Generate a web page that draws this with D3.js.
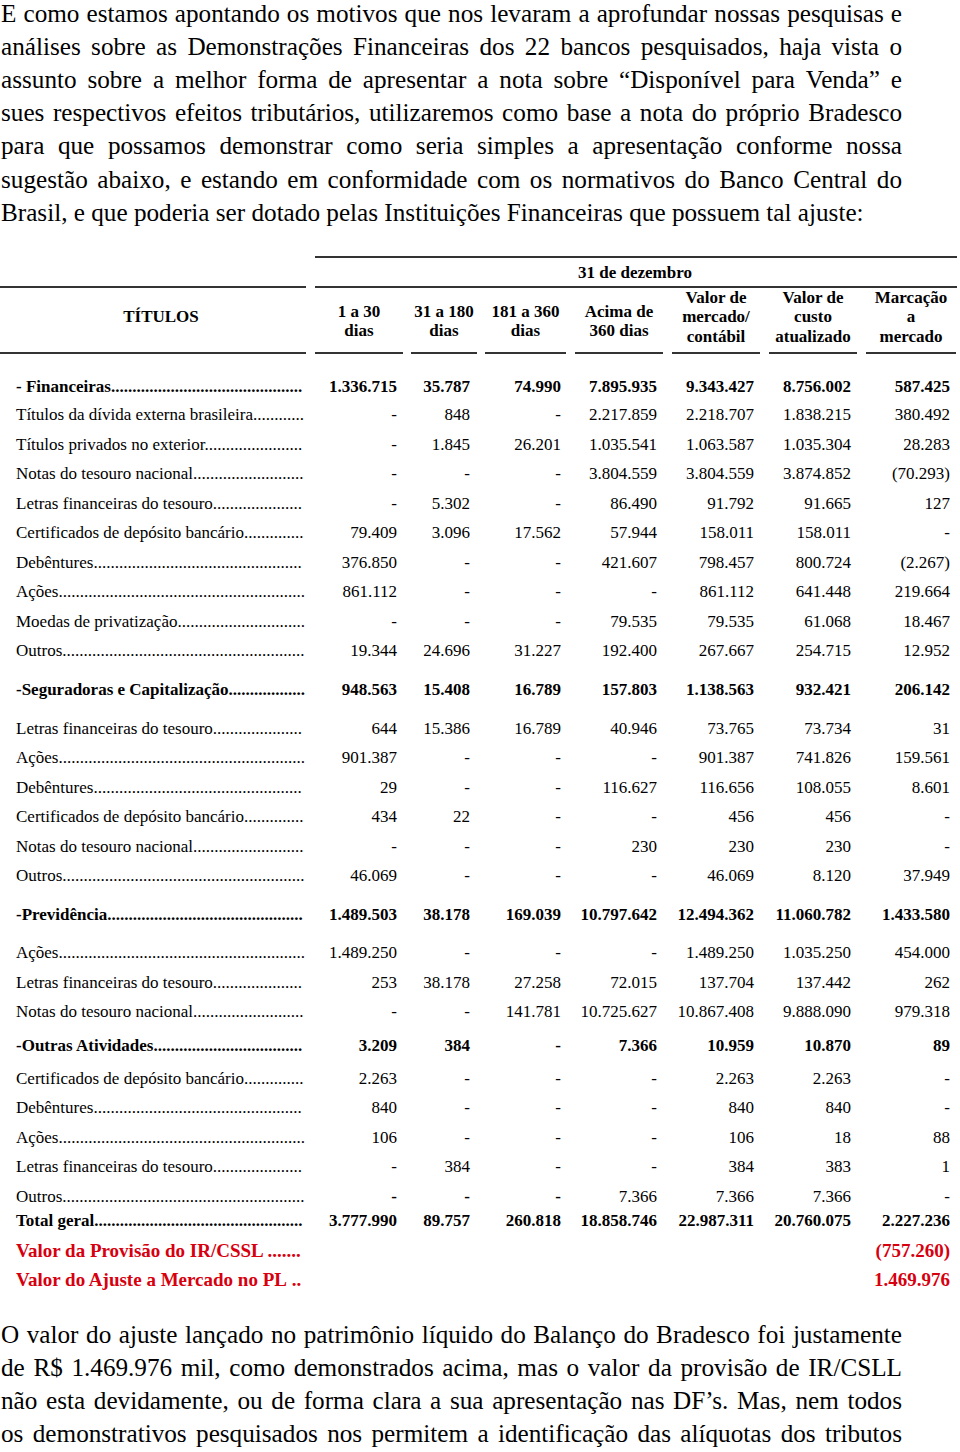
<!DOCTYPE html>
<html>
<head>
<meta charset="utf-8">
<script src="https://cdn.jsdelivr.net/npm/d3@7"></script>
<style>
  body { margin: 0; background: #fff; }
  svg text { font-family: "Liberation Serif", "Times New Roman", serif; fill: #000; }
</style>
</head>
<body>
<div id="page"></div>
<script>
// ---- text ----
var introLines = [
  "E como estamos apontando os motivos que nos levaram a aprofundar nossas pesquisas e",
  "análises sobre as Demonstrações Financeiras dos 22 bancos pesquisados, haja vista o",
  "assunto sobre a melhor forma de apresentar a nota sobre “Disponível para Venda” e",
  "sues respectivos efeitos tributários, utilizaremos como base a nota do próprio Bradesco",
  "para que possamos demonstrar como seria simples a apresentação conforme nossa",
  "sugestão abaixo, e estando em conformidade com os normativos do Banco Central do",
  "Brasil, e que poderia ser dotado pelas Instituições Financeiras que possuem tal ajuste:"
];
var outroLines = [
  "O valor do ajuste lançado no patrimônio líquido do Balanço do Bradesco foi justamente",
  "de R$ 1.469.976 mil, como demonstrados acima, mas o valor da provisão de IR/CSLL",
  "não esta devidamente, ou de forma clara a sua apresentação nas DF’s. Mas, nem todos",
  "os demonstrativos pesquisados nos permitem a identificação das alíquotas dos tributos"
];

// ---- table data ----
var columns = [
  ["1 a 30", "dias"], ["31 a 180", "dias"], ["181 a 360", "dias"], ["Acima de", "360 dias"],
  ["Valor de", "mercado/", "contábil"], ["Valor de", "custo", "atualizado"], ["Marcação", "a", "mercado"]
];
var groupNames = ["- Financeiras", "-Seguradoras e Capitalização", "-Previdência", "-Outras Atividades"];
var groupTotals = [
  [1336715, 35787, 74990, 7895935, 9343427, 8756002, 587425],
  [948563, 15408, 16789, 157803, 1138563, 932421, 206142],
  [1489503, 38178, 169039, 10797642, 12494362, 11060782, 1433580],
  [3209, 384, null, 7366, 10959, 10870, 89]
];
var finItems = ["Títulos da dívida externa brasileira", "Títulos privados no exterior", "Notas do tesouro nacional",
  "Letras financeiras do tesouro", "Certificados de depósito bancário", "Debêntures", "Ações",
  "Moedas de privatização", "Outros"];
var finValues = [
  [null, 848, null, 2217859, 2218707, 1838215, 380492],
  [null, 1845, 26201, 1035541, 1063587, 1035304, 28283],
  [null, null, null, 3804559, 3804559, 3874852, -70293],
  [null, 5302, null, 86490, 91792, 91665, 127],
  [79409, 3096, 17562, 57944, 158011, 158011, null],
  [376850, null, null, 421607, 798457, 800724, -2267],
  [861112, null, null, null, 861112, 641448, 219664],
  [null, null, null, 79535, 79535, 61068, 18467],
  [19344, 24696, 31227, 192400, 267667, 254715, 12952]
];
var segItems = ["Letras financeiras do tesouro", "Ações", "Debêntures", "Certificados de depósito bancário",
  "Notas do tesouro nacional", "Outros"];
var segValues = [
  [644, 15386, 16789, 40946, 73765, 73734, 31],
  [901387, null, null, null, 901387, 741826, 159561],
  [29, null, null, 116627, 116656, 108055, 8601],
  [434, 22, null, null, 456, 456, null],
  [null, null, null, 230, 230, 230, null],
  [46069, null, null, null, 46069, 8120, 37949]
];
var prevItems = ["Ações", "Letras financeiras do tesouro", "Notas do tesouro nacional"];
var prevValues = [
  [1489250, null, null, null, 1489250, 1035250, 454000],
  [253, 38178, 27258, 72015, 137704, 137442, 262],
  [null, null, 141781, 10725627, 10867408, 9888090, 979318]
];
var outItems = ["Certificados de depósito bancário", "Debêntures", "Ações", "Letras financeiras do tesouro", "Outros"];
var outValues = [
  [2263, null, null, null, 2263, 2263, null],
  [840, null, null, null, 840, 840, null],
  [106, null, null, null, 106, 18, 88],
  [null, 384, null, null, 384, 383, 1],
  [null, null, null, 7366, 7366, 7366, null]
];
var totalGeral = [3777990, 89757, 260818, 18858746, 22987311, 20760075, 2227236];
var provisaoIR = -757260;
var ajustePL = 1469976;

// ---- layout ----
var svg = d3.select("#page").append("svg")
  .attr("width", 960)
  .attr("height", 1452);

var textLeft = 1, textRight = 902;
var paraSize = 25.2, paraLead = 33.1;
var tableSize = 17, noteSize = 19;
var red = "#d7000f";
var ruleColor = "#333";

// column grid (left/right edge of each header rule)
var colLeft = [315, 411, 485, 575, 672, 769, 866];
var colRight = [403, 477, 566, 663, 760, 857, 956];
var numRight = [397, 470, 561, 657, 754, 851, 950];
var labelX = 16, labelEnd = 305;

var br = d3.formatLocale({ decimal: ",", thousands: ".", grouping: [3], currency: ["R$", ""] });
var fmtInt = br.format(",d");
function fmt(v) {
  if (v === null) return "-";
  return v < 0 ? "(" + fmtInt(-v) + ")" : fmtInt(v);
}

// justified paragraph, one word per <text>
function paragraph(lines, baseline, justifyLast) {
  lines.forEach(function(line, i) {
    var words = line.split(" ");
    var t = svg.append("g").selectAll("text")
      .data(words)
      .enter()
      .append("text")
      .attr("y", baseline + i * paraLead)
      .attr("font-size", paraSize)
      .text(d => d);
    var widths = t.nodes().map(n => n.getComputedTextLength());
    var justify = i < lines.length - 1 || justifyLast;
    var gap = justify ? (textRight - textLeft - d3.sum(widths)) / (words.length - 1) : paraSize * 0.25;
    var x = textLeft;
    t.attr("x", function(d, j) { var x0 = x; x += widths[j] + gap; return x0; });
  });
}

paragraph(introLines, 22, false);
paragraph(outroLines, 1343, true);

// ---- table header ----
var head = svg.append("g");
function rule(x1, x2, y) {
  head.append("line")
    .attr("x1", x1).attr("x2", x2).attr("y1", y).attr("y2", y)
    .attr("stroke", ruleColor).attr("stroke-width", 2);
}
rule(315, 957, 257);
rule(0, 306, 287);
rule(315, 957, 287);
rule(0, 306, 353);
colLeft.forEach((l, i) => rule(l, colRight[i], 353));

head.append("text")
  .attr("x", 635).attr("y", 272).attr("dy", "0.35em")
  .attr("text-anchor", "middle").attr("font-weight", "bold").attr("font-size", tableSize)
  .text("31 de dezembro");

head.append("text")
  .attr("x", 161).attr("y", 316).attr("dy", "0.35em")
  .attr("text-anchor", "middle").attr("font-weight", "bold").attr("font-size", tableSize)
  .text("TÍTULOS");

columns.forEach(function(c, i) {
  var cx = (colLeft[i] + colRight[i]) / 2;
  var y0 = 339 - 14 * c.length;
  head.append("text")
    .attr("text-anchor", "middle").attr("font-weight", "bold").attr("font-size", tableSize)
    .selectAll("tspan")
    .data(c)
    .enter()
    .append("tspan")
    .attr("x", cx)
    .attr("y", (d, j) => y0 + j * 19.5)
    .attr("dy", "0.35em")
    .text(d => d);
});

// ---- table body rows ----
var rows = [];
var groupItems = [finItems, segItems, prevItems, outItems];
var groupValues = [finValues, segValues, prevValues, outValues];
var sectionGap = [-1.5, 9, 9, 3.5];
groupNames.forEach(function(name, g) {
  rows.push({ label: name, values: groupTotals[g], kind: "group", gap: sectionGap[g] });
  groupItems[g].forEach(function(item, k) {
    rows.push({ label: item, values: groupValues[g][k], kind: "item", gap: k === 0 ? sectionGap[g] : 0 });
  });
});
rows.push({ label: "Total geral", values: totalGeral, kind: "total", gap: -5 });
rows.push({ label: "Valor da Provisão do IR/CSSL ", values: [null, null, null, null, null, null, provisaoIR], kind: "note", gap: 0 });
rows.push({ label: "Valor do Ajuste a Mercado no PL\u00a0", values: [null, null, null, null, null, null, ajustePL], kind: "note", gap: 0 });

var step = 29.55;
var yPos = 387.5 - step;
rows.forEach(function(r) { yPos += step + r.gap; r.y = yPos; });

var rowG = svg.append("g").selectAll("g")
  .data(rows)
  .enter()
  .append("g")
  .attr("transform", d => `translate(0, ${d.y})`)
  .attr("font-size", d => d.kind === "note" ? noteSize : tableSize)
  .attr("font-weight", d => d.kind === "item" ? "normal" : "bold");

// label followed by a dot leader up to the first column
rowG.append("text")
  .attr("x", labelX)
  .attr("dy", "0.35em")
  .style("fill", d => d.kind === "note" ? red : "#000")
  .text(d => d.label)
  .each(function(d) {
    var s = d.label;
    while (true) {
      this.textContent = s + ".";
      if (this.getComputedTextLength() > labelEnd - labelX) break;
      s += ".";
    }
    this.textContent = s;
  });

rowG.each(function(r) {
  var vals = r.kind === "note" ? [r.values[6]] : r.values;
  var offset = r.kind === "note" ? 6 : 0;
  d3.select(this).selectAll("text.num")
    .data(vals)
    .enter()
    .append("text")
    .attr("class", "num")
    .attr("x", (d, j) => numRight[j + offset])
    .attr("dy", "0.35em")
    .attr("text-anchor", "end")
    .style("fill", r.kind === "note" ? red : "#000")
    .attr("font-weight", (d, j) => {
      if (r.kind !== "item") return "bold";
      // last "Outros" row keeps bold dashes in the maturity columns
      return (r.values === outValues[4] && j < 3) ? "bold" : "normal";
    })
    .text(d => fmt(d));
});
</script>
</body>
</html>
